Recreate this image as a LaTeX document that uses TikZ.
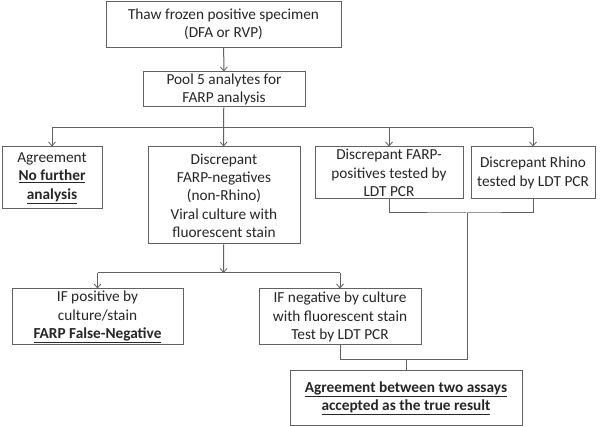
\documentclass[tikz,border=0pt]{standalone}
\usepackage{fontspec}
\setmainfont{Carlito}
\usetikzlibrary{arrows.meta}
\begin{document}
\begin{tikzpicture}[x=1pt,y=-1pt,
  box/.style={draw=black!62, line width=1pt, fill=white, inner sep=0pt, align=center,
    font=\fontsize{15.3}{18.3}\selectfont, text=black!85},
  conn/.style={draw=black!62, line width=1pt},
  arr/.style={conn, -{Straight Barb[length=4pt,width=7pt,line width=0.8pt]}}]
\fill[white] (0,0) rectangle (600,427);
\useasboundingbox (0,0) rectangle (600,427);

\node[box, minimum width=235pt, minimum height=46pt] (thaw) at (223.5,24.5) {Thaw frozen positive specimen\\(DFA or RVP)};
\node[box, minimum width=162pt, minimum height=35pt] (pool) at (224,89.5) {Pool 5 analytes for\\FARP analysis};
\node[box, minimum width=100pt, minimum height=62pt] (agree) at (52,178) {Agreement\\\underline{\textbf{No further}}\\\underline{\textbf{analysis}}};
\node[box, minimum width=152pt, minimum height=97pt] (disc) at (224,195.5) {Discrepant\\FARP-negatives\\(non-Rhino)\\Viral culture with\\fluorescent stain};
\node[box, minimum width=148pt, minimum height=52pt] (fpos) at (389,173) {Discrepant FARP-\\positives tested by\\LDT PCR};
\node[box, minimum width=124pt, minimum height=52pt] (rhino) at (533,173) {Discrepant Rhino\\tested by LDT PCR};
\node[box, minimum width=171pt, minimum height=56pt] (ifpos) at (97.5,317) {IF positive by\\culture/stain\\\underline{\textbf{FARP False-Negative}}};
\node[box, minimum width=162pt, minimum height=56pt] (ifneg) at (340,317) {IF negative by culture\\with fluorescent stain\\Test by LDT PCR};
\node[box, minimum width=232pt, minimum height=55pt] (final) at (406,398.5) {\underline{\textbf{Agreement between two assays}}\\\underline{\textbf{accepted as the true result}}};

\coordinate (br1) at (223.5,128);
\coordinate (br2) at (223.5,273);
\coordinate (j1) at (467,213);
\coordinate (j2) at (467,360);
\coordinate (j3) at (406,360);

\draw[arr] (thaw) -- (pool);
\draw[conn] (pool) -- (br1);
\draw[conn] (br1 -| agree) -- (br1 -| rhino);
\draw[arr] (br1 -| agree) -- (agree);
\draw[arr] (br1) -- (disc);
\draw[arr] (br1 -| fpos) -- (fpos);
\draw[arr] (br1 -| rhino) -- (rhino);

\draw[arr] (disc) -- (br2);
\draw[conn] (br2 -| ifpos) -- (br2 -| ifneg);
\draw[arr] (br2 -| ifpos) -- (ifpos);
\draw[arr] (br2 -| ifneg) -- (ifneg);

\draw[conn] (fpos.south) |- (j1) -| (rhino.south);
\draw[conn] (j1) -- (j2);
\draw[conn] (ifneg.south) |- (j2);
\draw[conn] (j3) -- (final);
\end{tikzpicture}
\end{document}
